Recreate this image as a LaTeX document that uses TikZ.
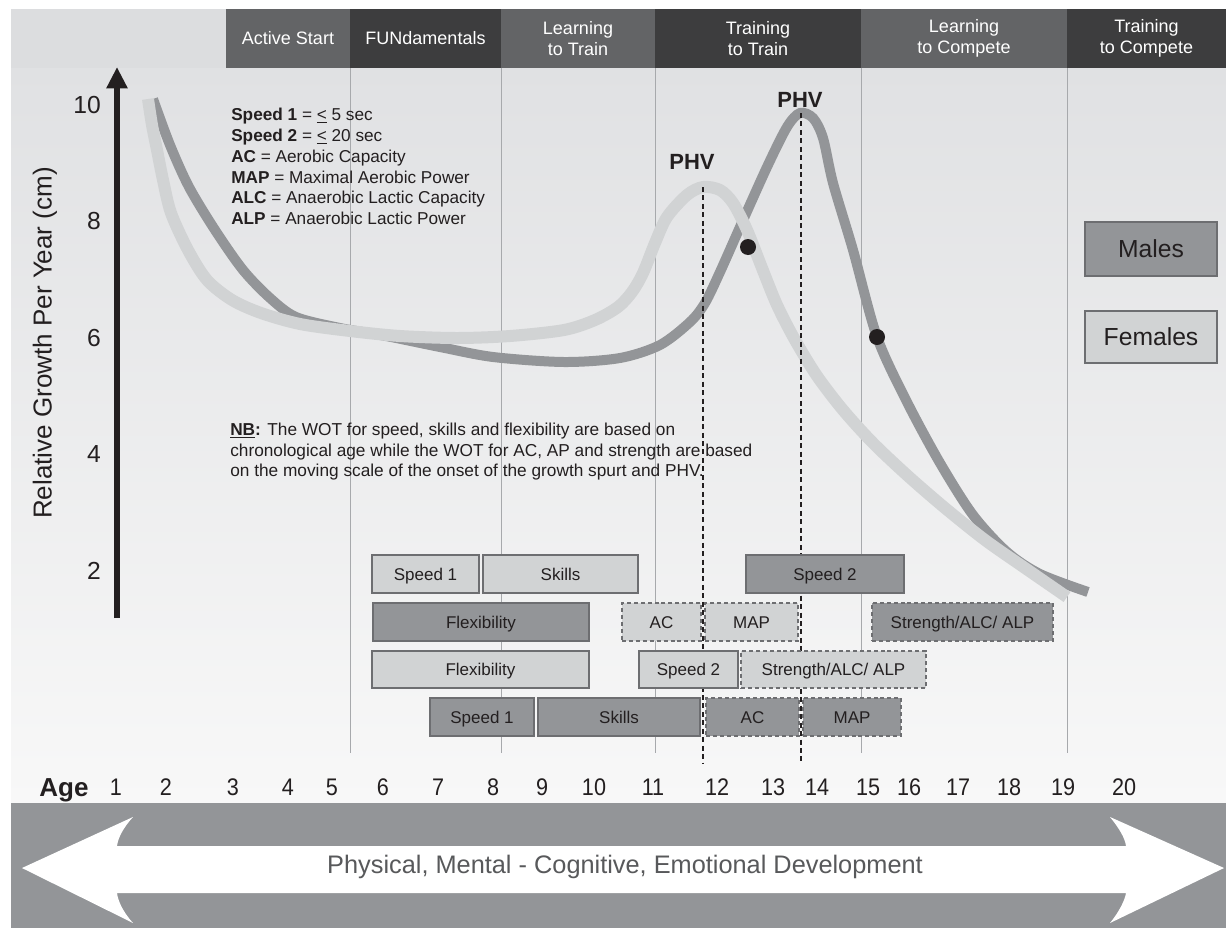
\documentclass[tikz,border=0pt]{standalone}
\usepackage{fontspec}
\setmainfont{Liberation Sans}
\newfontfamily\narrowsans[FakeStretch=0.9]{Liberation Sans}
\usetikzlibrary{arrows.meta,fit}
\definecolor{hdark}{HTML}{3D3D3E}
\definecolor{hmid}{HTML}{636466}
\definecolor{strip}{HTML}{DCDDDF}
\definecolor{bgtop}{HTML}{E0E1E3}
\definecolor{bgbot}{HTML}{F8F8F8}
\definecolor{band}{HTML}{939598}
\definecolor{malec}{HTML}{939598}
\definecolor{femc}{HTML}{D1D3D4}
\definecolor{ink}{HTML}{231F20}
\definecolor{edge}{HTML}{6D6E71}
\definecolor{vline}{HTML}{A7A9AC}
\definecolor{devtext}{HTML}{58595B}
\begin{document}
\begin{tikzpicture}[x=0.75pt,y=-0.75pt,
  hdr/.style={fill=#1, inner sep=0pt},
  hdrtext/.style={text=white, align=center, inner sep=0pt,
    font=\fontsize{13.5}{15.5}\selectfont},
  lbox/.style={fill=femc, draw=edge, line width=0.9pt, inner sep=0pt},
  dbox/.style={lbox, fill=malec},
  boxtext/.style={text=ink, inner sep=0pt, text height=9.2pt, text depth=0pt,
    font=\fontsize{12.75}{14}\selectfont},
  dashbox/.style={line width=1.2pt, dash pattern=on 3pt off 2.2pt},
  legbox/.style={draw=edge, line width=0.9pt, inner sep=0pt},
  legtext/.style={text=ink, inner sep=0pt, text height=13.3pt, text depth=0pt,
    font=\fontsize{18.5}{20}\selectfont},
  tick/.style={text=ink, anchor=east, inner sep=0pt, font=\fontsize{18.5}{20}\selectfont},
  agelab/.style={text=ink, inner sep=0pt, text height=12.9pt, text depth=0pt,
    font=\narrowsans\fontsize{18}{20}\selectfont},
  phv/.style={text=ink, inner sep=0pt, font=\bfseries\fontsize{16.5}{18}\selectfont},
  dot/.style={circle, fill=ink, minimum size=12pt, inner sep=0pt},
  curvemale/.style={malec, line width=7.5pt},
  curvefem/.style={femc, line width=9pt},
  phvline/.style={ink, line width=2pt, dash pattern=on 3.75pt off 2.6pt},
  grid/.style={vline, line width=0.75pt}
]
\useasboundingbox (0,0) rectangle (1226,928);
% backgrounds
\shade[top color=bgtop, bottom color=bgbot] (11,68) rectangle (1226,803);
\fill[strip] (11,9) rectangle (226,68);
\fill[band] (11,803) rectangle (1226,928);

% header
\node[hdr=hmid, fit={(226,9)(350,68)}, label={[hdrtext]center:Active Start}] (h1) {};
\node[hdr=hdark, fit={(350,9)(501,68)}, label={[hdrtext]center:FUNdamentals}] (h2) {};
\node[hdr=hmid, fit={(501,9)(655,68)}, label={[hdrtext]center:Learning\\to Train}] (h3) {};
\node[hdr=hdark, fit={(655,9)(861,68)}, label={[hdrtext]center:Training\\to Train}] (h4) {};
\node[hdr=hmid, fit={(861,9)(1067,68)}, label={[hdrtext]center:Learning\\to Compete}] (h5) {};
\node[hdr=hdark, fit={(1067,9)(1226,68)}, label={[hdrtext]center:Training\\to Compete}] (h6) {};

% grid lines
\foreach \gx in {350,501,655,861,1067}{
  \draw[grid] (\gx,68) -- (\gx,753);
}

% legend text
\node[anchor=north west, inner sep=0pt, align=left, text=ink,
  font=\fontsize{12.9}{15.6}\selectfont] (legend) at (231,108)
  {\textbf{Speed 1} = \underline{<} 5 sec\\
   \textbf{Speed 2} = \underline{<} 20 sec\\
   \textbf{AC} = Aerobic Capacity\\
   \textbf{MAP} = Maximal Aerobic Power\\
   \textbf{ALC} = Anaerobic Lactic Capacity\\
   \textbf{ALP} = Anaerobic Lactic Power};

\node[anchor=north west, inner sep=0pt, align=left, text=ink,
  font=\fontsize{12.95}{15.4}\selectfont] (nb) at (230,423)
  {\textbf{\underline{NB}:} The WOT for speed, skills and flexibility are based on\\
   chronological age while the WOT for AC, AP and strength are based\\
   on the moving scale of the onset of the growth spurt and PHV.};

% curves
\draw[curvemale] plot[smooth, tension=0.5] coordinates {
 (153,99) (170,145) (189,187) (215,230) (243,270) (270,298) (296,317) (340,328)
 (386,336) (440,347) (493,357) (564,362) (620,358) (660,345) (690,322) (705,303)
 (720,272) (740,227) (767,167) (787,127) (800,113) (813,118) (823,138) (833,183)
 (853,250) (877,337) (907,402) (940,463) (973,515) (1007,552) (1040,574) (1088,592)};
\draw[curvefem] plot[smooth, tension=0.5] coordinates {
 (148,99) (152,125) (157,150) (163,180) (171,213) (188,250) (207,280) (232,300)
 (261,313) (300,324) (350,331) (400,336) (457,338) (510,336) (564,330) (595,320)
 (618,307) (632,292) (643,273) (655,243) (667,217) (687,195) (703,187) (720,190)
 (733,203) (747,230) (762,268) (777,305) (795,340) (817,376) (843,410) (873,443)
 (908,476) (945,508) (985,540) (1025,568) (1067,597)};

% PHV
\coordinate (pf) at (703,187);
\coordinate (pfb) at (703,763);
\coordinate (pm) at (801,113);
\coordinate (pmb) at (801,763);
\draw[phvline] (pf) -- (pfb);
\draw[phvline] (pm) -- (pmb);
\node[phv] (phvF) at (692,162) {PHV};
\node[phv] (phvM) at (800,100) {PHV};
\node[dot] (dotF) at (748,247) {};
\node[dot] (dotM) at (877,337) {};

% y axis
\coordinate (ybot) at (117,618);
\coordinate (ytop) at (117,67);
\draw[ink, line width=4.9pt, -{Triangle[width=15pt,length=16pt]}] (ybot) -- (ytop);
\node[tick] (t10) at (101,105) {10};
\node[tick] (t8) at (101,221) {8};
\node[tick] (t6) at (101,338) {6};
\node[tick] (t4) at (101,454) {4};
\node[tick] (t2) at (101,571) {2};
\node[rotate=90, text=ink, inner sep=0pt, font=\fontsize{19.5}{21}\selectfont] (ylab) at (45,343)
  {Relative Growth Per Year (cm)};

% legend boxes
\node[legbox, fill=malec, fit={(1085,222)(1217,276)}, label={[legtext]center:Males}] (males) {};
\node[legbox, fill=femc, fit={(1085,311)(1217,363)}, label={[legtext]center:Females}] (females) {};

% window boxes
\node[lbox, fit={(372,555)(479,593)}, label={[boxtext]center:Speed 1}] (b1) {};
\node[lbox, fit={(483,555)(638,593)}, label={[boxtext]center:Skills}] (b2) {};
\node[dbox, fit={(746,555)(904,593)}, label={[boxtext]center:Speed 2}] (b3) {};
\node[dbox, fit={(373,603)(589,641)}, label={[boxtext]center:Flexibility}] (b4) {};
\node[lbox, dashbox, fit={(622,603)(701,641)}, label={[boxtext]center:AC}] (b5) {};
\node[lbox, dashbox, fit={(705,603)(798,641)}, label={[boxtext]center:MAP}] (b6) {};
\node[dbox, dashbox, fit={(872,603)(1053,641)}, label={[boxtext]center:Strength/ALC/ ALP}] (b7) {};
\node[lbox, fit={(372,651)(589,688)}, label={[boxtext]center:Flexibility}] (b8) {};
\node[lbox, fit={(639,651)(738,688)}, label={[boxtext]center:Speed 2}] (b9) {};
\node[lbox, dashbox, fit={(741,651)(926,688)}, label={[boxtext]center:Strength/ALC/ ALP}] (b10) {};
\node[dbox, fit={(430,698)(534,736)}, label={[boxtext]center:Speed 1}] (b11) {};
\node[dbox, fit={(538,698)(700,736)}, label={[boxtext]center:Skills}] (b12) {};
\node[dbox, dashbox, fit={(706,698)(799,736)}, label={[boxtext]center:AC}] (b13) {};
\node[dbox, dashbox, fit={(803,698)(901,736)}, label={[boxtext]center:MAP}] (b14) {};

% age axis
\node[agelab, text height=14pt, font=\bfseries\fontsize{19.5}{21}\selectfont] (age) at (64,787) {Age};
\foreach \n/\ax in {1/116,2/166,3/233,4/288,5/332,6/383,7/438,8/493,9/542,10/594,
  11/653,12/717,13/773,14/817,15/868,16/909,17/958,18/1009,19/1063,20/1124}{
  \node[agelab] (a\n) at (\ax,787) {\n};
}

% development arrow
\fill[white] (22,868) -- (133,817) .. controls (123,828) and (118,838) .. (117,846)
  -- (1126,846) .. controls (1125,838) and (1119,828) .. (1110,817)
  -- (1224,868) -- (1110,923) .. controls (1119,912) and (1125,900) .. (1126,893)
  -- (117,893) .. controls (118,901) and (123,912) .. (133,923) -- cycle;
\node[text=devtext, inner sep=0pt, font=\fontsize{19}{21}\selectfont] (dev) at (625,867)
  {Physical, Mental - Cognitive, Emotional Development};
\end{tikzpicture}
\end{document}
